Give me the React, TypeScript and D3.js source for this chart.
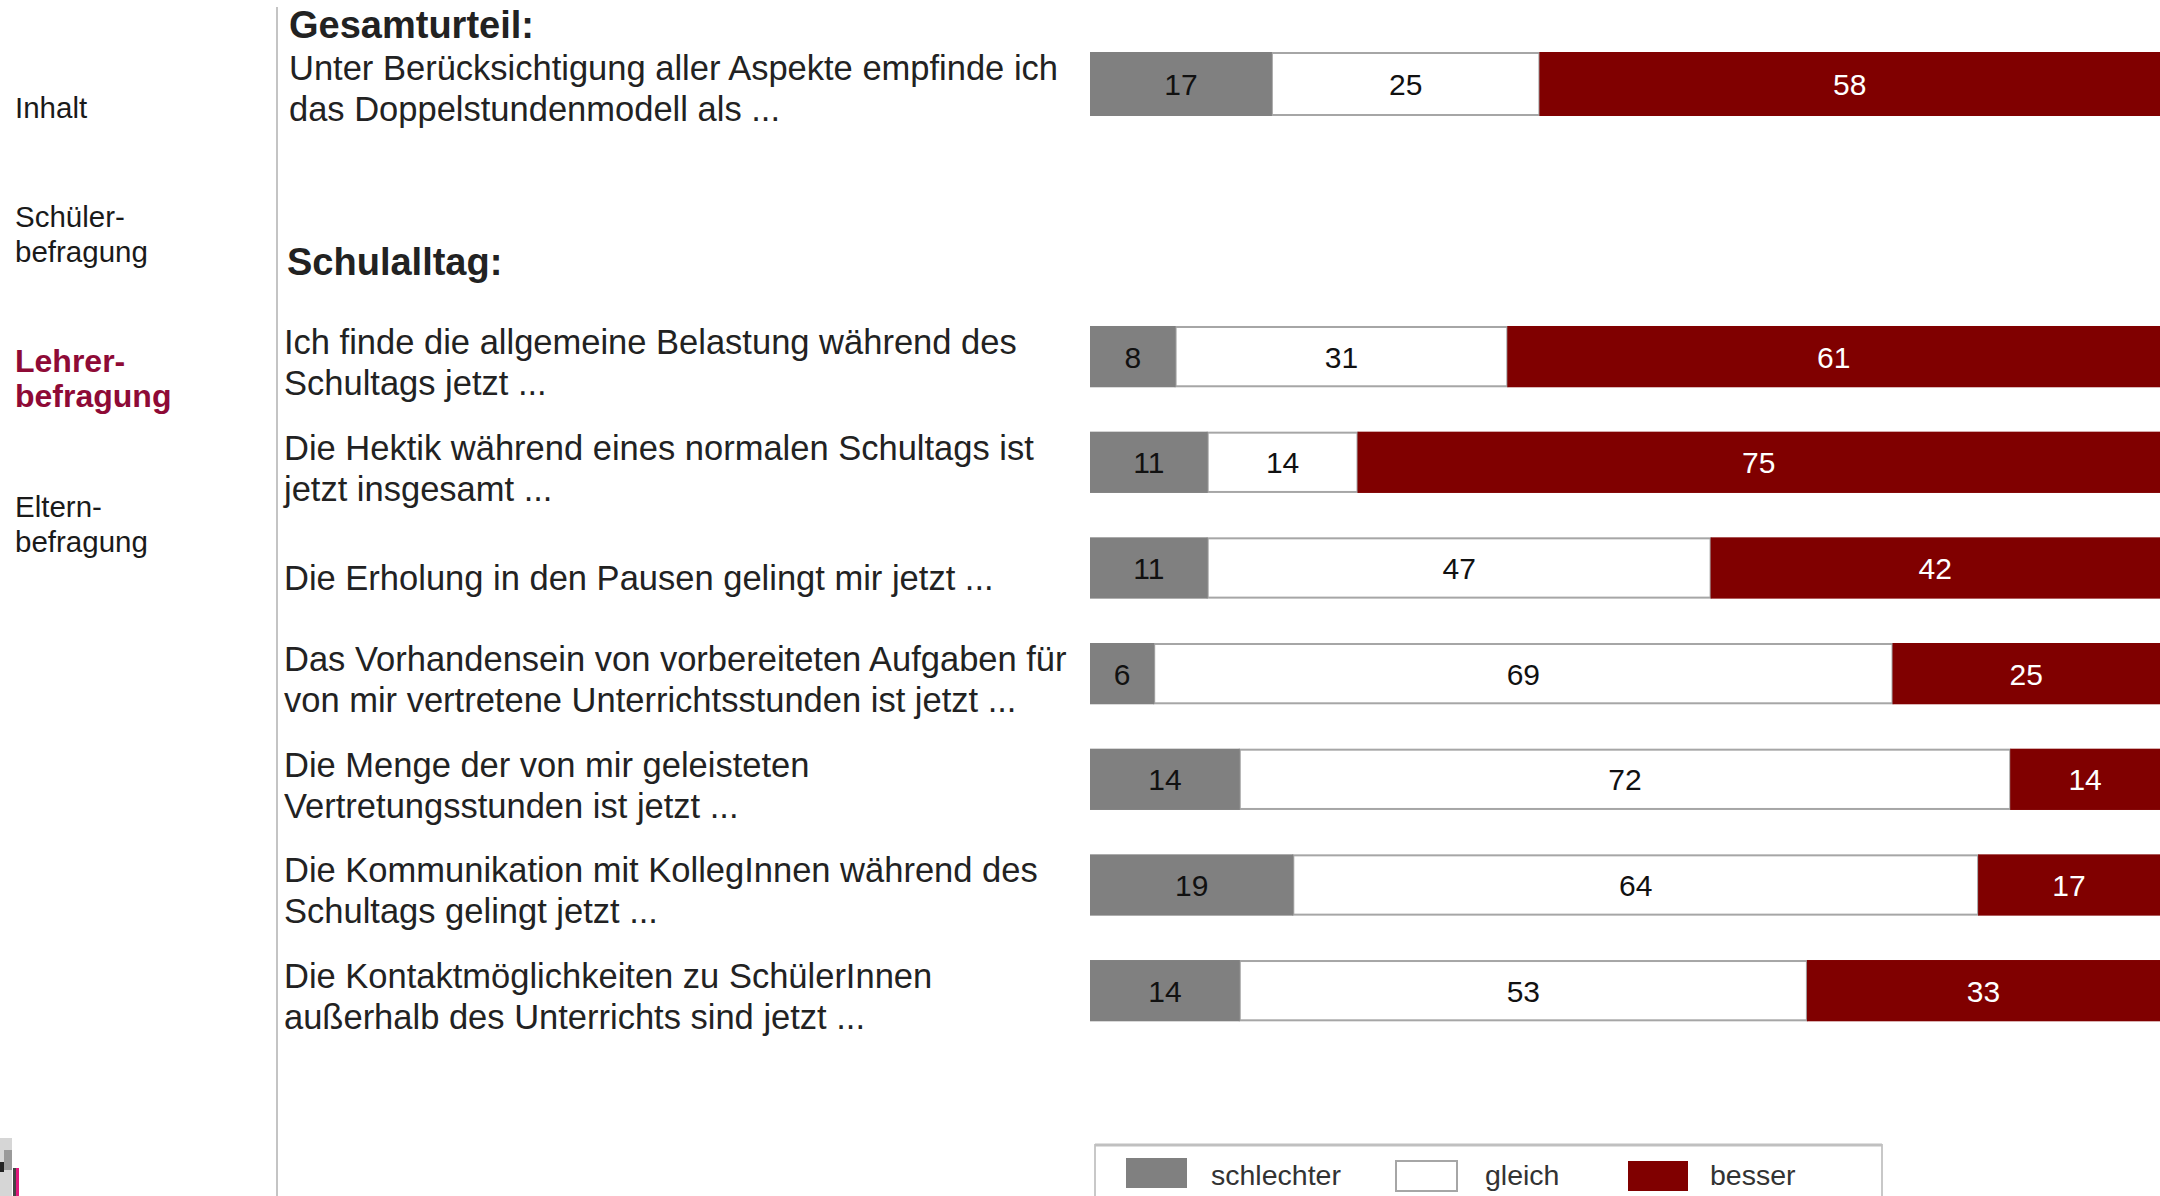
import React from "react";
import * as d3 from "d3";

const navItems = ["Inhalt", "Schüler-|befragung", "Lehrer-|befragung", "Eltern-|befragung"];
const navActive = [false, false, true, false];

const overallLabel = ["Unter Berücksichtigung aller Aspekte empfinde ich", "das Doppelstundenmodell als ..."];
const overallValues = [17, 25, 58];

const itemLabels = [
  ["Ich finde die allgemeine Belastung während des", "Schultags jetzt ..."],
  ["Die Hektik während eines normalen Schultags ist", "jetzt insgesamt ..."],
  ["Die Erholung in den Pausen gelingt mir jetzt ..."],
  ["Das Vorhandensein von vorbereiteten Aufgaben für", "von mir vertretene Unterrichtsstunden ist jetzt ..."],
  ["Die Menge der von mir geleisteten", "Vertretungsstunden ist jetzt ..."],
  ["Die Kommunikation mit KollegInnen während des", "Schultags gelingt jetzt ..."],
  ["Die Kontaktmöglichkeiten zu SchülerInnen", "außerhalb des Unterrichts sind jetzt ..."],
];
const schlechter = [8, 11, 11, 6, 14, 19, 14];
const gleich = [31, 14, 47, 69, 72, 64, 53];
const besser = [61, 75, 42, 25, 14, 17, 33];

const seriesNames = ["schlechter", "gleich", "besser"];
const seriesColors = ["#808080", "#ffffff", "#800000"];
const seriesText = ["#111111", "#111111", "#ffffff"];

const FONT = "'Liberation Sans', Arial, sans-serif";
const W = 2160;
const H = 1196;

function StackedBar({ values, y, h, x }: { values: number[]; y: number; h: number; x: d3.ScaleLinear<number, number> }) {
  const stack = d3.cumsum(values);
  const segs = values.map((v, i) => ({ v, i, x0: x(i === 0 ? 0 : stack[i - 1]), x1: x(stack[i]) }));
  return (
    <g>
      {segs.map((s) =>
        s.i === 1 ? (
          <rect key={s.i} x={s.x0} y={y + 1} width={s.x1 - s.x0} height={h - 2} fill="#fff" stroke="#a6a6a6" strokeWidth={2} />
        ) : null
      )}
      {segs.map((s) =>
        s.i !== 1 ? <rect key={"r" + s.i} x={s.x0} y={y} width={s.x1 - s.x0} height={h} fill={seriesColors[s.i]} /> : null
      )}
      {segs.map((s) => (
        <text
          key={"t" + s.i}
          x={(s.x0 + s.x1) / 2}
          y={y + h / 2 + 11}
          textAnchor="middle"
          fontFamily={FONT}
          fontSize={30}
          fill={seriesText[s.i]}
        >
          {s.v}
        </text>
      ))}
    </g>
  );
}

export default function App() {
  const x = d3.scaleLinear().domain([0, 100]).range([1090, 2160]);
  const y = d3
    .scaleBand<number>()
    .domain(d3.range(itemLabels.length))
    .range([303.8, 1043.5])
    .paddingInner(0.42)
    .paddingOuter(0.21);
  const bh = y.bandwidth();
  const overallY = 52;
  const overallH = 64;
  const labelX = 284;
  const labelSize = 34.5;
  const lineH = 41;

  const navY = [118, 227, 372, 517];

  return (
    <svg width={W} height={H} style={{ position: "absolute", left: 0, top: 0, background: "#fff" }}>
      <rect x={0} y={0} width={W} height={H} fill="#fff" />
      {/* nav */}
      {navItems.map((n, i) =>
        n.split("|").map((line, j) => (
          <text
            key={i + "-" + j}
            x={15}
            y={navY[i] + j * 35}
            fontFamily={FONT}
            fontSize={navActive[i] ? 32 : 29.5}
            fontWeight={navActive[i] ? "bold" : "normal"}
            fill={navActive[i] ? "#8e0a36" : "#1a1a1a"}
          >
            {line}
          </text>
        ))
      )}
      <line x1={277} x2={277} y1={7} y2={H} stroke="#c4c4c4" strokeWidth={2} />

      {/* icon fragment */}
      <rect x={0} y={1138} width={12} height={58} fill="#d6d6d6" />
      <rect x={4} y={1150} width={8} height={20} fill="#9a9a9a" />
      <rect x={0} y={1162} width={4} height={10} fill="#222" />
      <rect x={16} y={1168} width={3} height={28} fill="#e0197d" />
      <rect x={13} y={1168} width={3} height={28} fill="#444" />

      {/* headings */}
      <text x={289} y={38} fontFamily={FONT} fontSize={38} fontWeight="bold" fill="#222">
        Gesamturteil:
      </text>
      <text x={287} y={275} fontFamily={FONT} fontSize={38} fontWeight="bold" fill="#222">
        Schulalltag:
      </text>

      {overallLabel.map((l, j) => (
        <text key={"o" + j} x={289} y={overallY + 28 + j * lineH} fontFamily={FONT} fontSize={labelSize} fill="#222">
          {l}
        </text>
      ))}
      <StackedBar values={overallValues} y={overallY} h={overallH} x={x} />

      {itemLabels.map((lines, i) => {
        const top = y(i)!;
        return (
          <g key={"i" + i}>
            {lines.map((l, j) => (
              <text
                key={j}
                x={labelX}
                y={lines.length === 1 ? top + bh / 2 + 22 : top + 28 + j * lineH}
                fontFamily={FONT}
                fontSize={labelSize}
                fill="#222"
              >
                {l}
              </text>
            ))}
            <StackedBar values={[schlechter[i], gleich[i], besser[i]]} y={top} h={bh} x={x} />
          </g>
        );
      })}

      {/* legend */}
      <rect x={1095} y={1145} width={787} height={80} fill="#fff" stroke="#c8c8c8" strokeWidth={2} />
      <line x1={1095} x2={1882} y1={1145} y2={1145} stroke="#c0c0c0" strokeWidth={3} />
      {seriesNames.map((n, i) => {
        const sx = [1126, 1396, 1628][i];
        const tx = [1211, 1485, 1710][i];
        return (
          <g key={"lg" + i}>
            <rect
              x={sx}
              y={i === 0 ? 1158 : 1161}
              width={i === 2 ? 60 : 61}
              height={30}
              fill={seriesColors[i]}
              stroke={i === 1 ? "#a6a6a6" : "none"}
              strokeWidth={2}
            />
            <text x={tx} y={1185} fontFamily={FONT} fontSize={28.5} fill="#333">
              {n}
            </text>
          </g>
        );
      })}
    </svg>
  );
}
